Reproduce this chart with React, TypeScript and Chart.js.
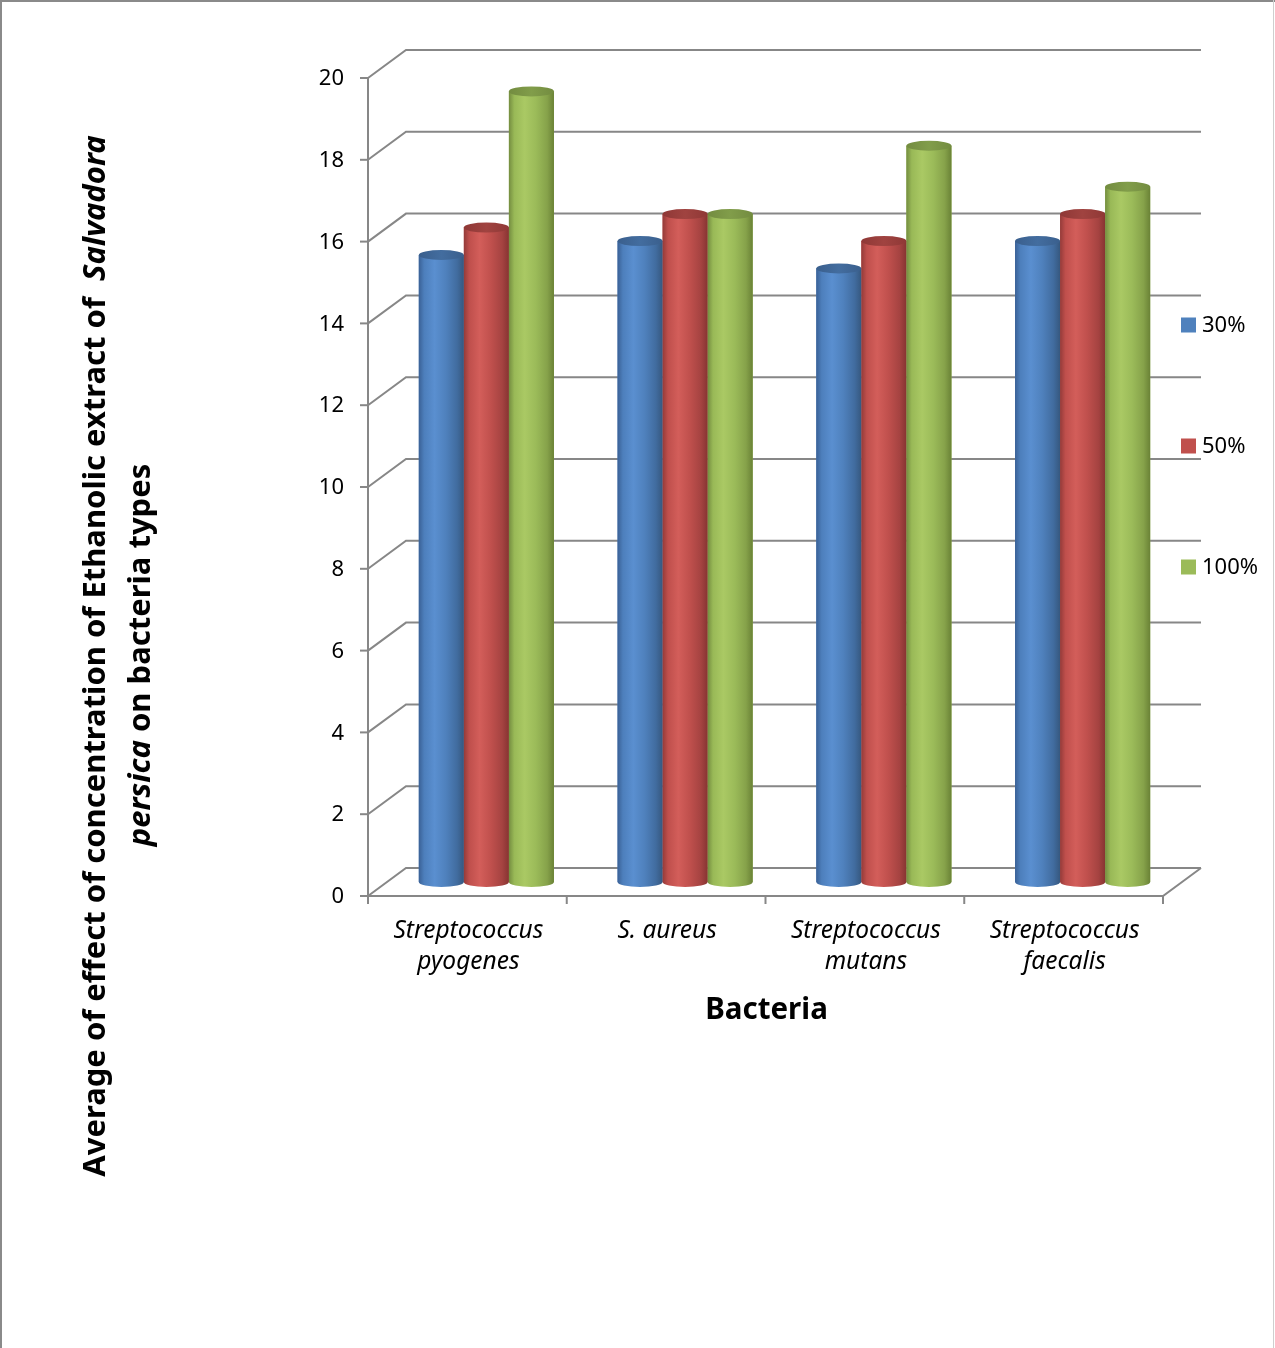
import { useEffect, useRef } from "react";
import { Chart, registerables } from "chart.js";

Chart.register(...registerables);

// ---- data ----
const categories: string[][] = [
  ["Streptococcus", "pyogenes"],
  ["S. aureus"],
  ["Streptococcus", "mutans"],
  ["Streptococcus", "faecalis"],
];
const seriesNames = ["30%", "50%", "100%"];
const values30 = [15.33, 15.67, 15.0, 15.67];
const values50 = [16.0, 16.33, 15.67, 16.33];
const values100 = [19.33, 16.33, 18.0, 17.0];
const yTicks = [0, 2, 4, 6, 8, 10, 12, 14, 16, 18, 20];
const xTitle = "Bacteria";
const yTitleLine1 = [
  { text: "Average of effect of concentration of Ethanolic extract of  ", italic: false },
  { text: "Salvadora", italic: true },
];
const yTitleLine2 = [
  { text: "persica", italic: true },
  { text: " on bacteria types", italic: false },
];

// ---- styles ----
const baseColors = ["#4F81BD", "#C0504D", "#9BBB59"];
const bodyStops = [
  ["#3a6196", "#4d7fbc", "#5a8fd0", "#4f81bd", "#416c9f", "#36587f"],
  ["#943b39", "#bf4f4c", "#d35e5a", "#c0504d", "#a54341", "#873432"],
  ["#748d40", "#99b957", "#aac964", "#9bbb59", "#86a24a", "#6a8236"],
];
const capColors = [
  ["#3a5f8d", "#436d9f"],
  ["#8f3836", "#a04340"],
  ["#738c40", "#819d4a"],
];
const GRID = "#878787";
const FONT = '"Noto Sans", "DejaVu Sans", sans-serif';
const DX = 19; // depth offset of the bar plane (x)
const DY = 14; // depth offset of the bar plane (y)

const framePlugin = {
  id: "frame3d",
  beforeDraw(chart: any) {
    const { ctx, width, height } = chart;
    ctx.save();
    ctx.fillStyle = "#ffffff";
    ctx.fillRect(0, 0, width, height);
    ctx.strokeStyle = "#8a8a8a";
    ctx.lineWidth = 2;
    ctx.beginPath();
    ctx.moveTo(0, 1);
    ctx.lineTo(width, 1);
    ctx.moveTo(1, 0);
    ctx.lineTo(1, height);
    ctx.stroke();
    ctx.strokeStyle = "#cfcfcf";
    ctx.lineWidth = 1;
    ctx.beginPath();
    ctx.moveTo(width - 1.5, 0);
    ctx.lineTo(width - 1.5, height);
    ctx.stroke();
    ctx.restore();
  },
  beforeDatasetsDraw(chart: any) {
    const { ctx, chartArea, scales } = chart;
    const y = scales.y;
    const x = scales.x;
    const fl = chartArea.left - DX;
    const fr = chartArea.right - DX;
    const bl = chartArea.left + DX;
    const br = chartArea.right + DX;
    ctx.save();
    ctx.strokeStyle = GRID;
    ctx.lineWidth = 2;
    ctx.lineCap = "butt";
    // back wall gridlines + side wall diagonals
    yTicks.forEach((v) => {
      const yp = y.getPixelForValue(v);
      ctx.beginPath();
      ctx.moveTo(fl, yp + DY);
      ctx.lineTo(bl, yp - DY);
      ctx.lineTo(br, yp - DY);
      ctx.stroke();
      // tick mark on front axis
      ctx.beginPath();
      ctx.moveTo(fl - 8, yp + DY);
      ctx.lineTo(fl, yp + DY);
      ctx.stroke();
    });
    // floor front edge and right diagonal
    const y0 = y.getPixelForValue(0);
    ctx.beginPath();
    ctx.moveTo(fl, y0 + DY);
    ctx.lineTo(fr, y0 + DY);
    ctx.lineTo(br, y0 - DY);
    ctx.stroke();
    // front vertical axis
    ctx.beginPath();
    ctx.moveTo(fl, y0 + DY);
    ctx.lineTo(fl, y.getPixelForValue(yTicks[yTicks.length - 1]) + DY);
    ctx.stroke();
    // category tick marks
    const step = (chartArea.right - chartArea.left) / categories.length;
    for (let i = 0; i <= categories.length; i++) {
      const xp = fl + i * step;
      ctx.beginPath();
      ctx.moveTo(xp, y0 + DY);
      ctx.lineTo(xp, y0 + DY + 8);
      ctx.stroke();
    }

    // y tick labels
    ctx.fillStyle = "#000000";
    ctx.font = `22px ${FONT}`;
    ctx.textAlign = "right";
    ctx.textBaseline = "middle";
    yTicks.forEach((v) => {
      ctx.fillText(String(v), fl - 24, y.getPixelForValue(v) + DY + 1);
    });

    // category labels
    ctx.font = `italic 24.5px ${FONT}`;
    ctx.textAlign = "center";
    ctx.textBaseline = "alphabetic";
    categories.forEach((lines, i) => {
      const cx = x.getPixelForValue(i) - DX;
      lines.forEach((ln, k) => {
        ctx.fillText(ln, cx + 1, y0 + DY + 42 + k * 31);
      });
    });

    // x axis title
    ctx.font = `bold 29.5px ${FONT}`;
    ctx.fillText(xTitle, (fl + fr) / 2 + 1, 1019);

    // y axis title (rotated, two lines)
    const drawRotated = (parts: { text: string; italic: boolean }[], bx: number, cy: number) => {
      const fontOf = (it: boolean) => `${it ? "italic " : ""}bold 31px ${FONT}`;
      let total = 0;
      parts.forEach((p) => {
        ctx.font = fontOf(p.italic);
        total += ctx.measureText(p.text).width;
      });
      ctx.save();
      ctx.translate(bx, cy);
      ctx.rotate(-Math.PI / 2);
      ctx.textAlign = "left";
      ctx.textBaseline = "alphabetic";
      let pos = -total / 2;
      parts.forEach((p) => {
        ctx.font = fontOf(p.italic);
        ctx.fillText(p.text, pos, 0);
        pos += ctx.measureText(p.text).width;
      });
      ctx.restore();
    };
    drawRotated(yTitleLine1, 105, 656);
    drawRotated(yTitleLine2, 150, 655);

    // legend
    const legendY = [325, 446, 567];
    ctx.font = `22px ${FONT}`;
    ctx.textAlign = "left";
    ctx.textBaseline = "middle";
    seriesNames.forEach((name, i) => {
      ctx.fillStyle = baseColors[i];
      ctx.fillRect(1181, legendY[i] - 7.5, 15, 15);
      ctx.fillStyle = "#000000";
      ctx.fillText(name, 1202, legendY[i] + 1);
    });
    ctx.restore();
  },
  afterDatasetsDraw(chart: any) {
    const { ctx } = chart;
    const nSeries = chart.data.datasets.length;
    ctx.save();
    for (let ci = 0; ci < categories.length; ci++) {
      for (let di = 0; di < nSeries; di++) {
        const el = chart.getDatasetMeta(di).data[ci];
        const { x, y, base, width } = el.getProps(["x", "y", "base", "width"], true);
        const rx = width / 2;
        const ry = 5;
        const l = x - rx;
        const r = x + rx;
        const g = ctx.createLinearGradient(l, 0, r, 0);
        const st = bodyStops[di];
        [0, 0.12, 0.35, 0.6, 0.85, 1].forEach((p, k) => g.addColorStop(p, st[k]));
        ctx.fillStyle = g;
        ctx.beginPath();
        ctx.moveTo(l, y);
        ctx.lineTo(l, base);
        ctx.ellipse(x, base, rx, ry, 0, Math.PI, 0, true);
        ctx.lineTo(r, y);
        ctx.closePath();
        ctx.fill();
        // top cap
        const cg = ctx.createLinearGradient(l, 0, r, 0);
        cg.addColorStop(0, capColors[di][0]);
        cg.addColorStop(0.5, capColors[di][1]);
        cg.addColorStop(1, capColors[di][0]);
        ctx.fillStyle = cg;
        ctx.beginPath();
        ctx.ellipse(x, y, rx, ry, 0, 0, Math.PI * 2);
        ctx.fill();
      }
    }
    ctx.restore();
  },
};

export default function App() {
  const ref = useRef<HTMLCanvasElement | null>(null);

  useEffect(() => {
    if (!ref.current) return;
    const chart = new Chart(ref.current, {
      type: "bar",
      data: {
        labels: categories,
        datasets: [
          { label: seriesNames[0], data: values30, backgroundColor: baseColors[0] },
          { label: seriesNames[1], data: values50, backgroundColor: baseColors[1] },
          { label: seriesNames[2], data: values100, backgroundColor: baseColors[2] },
        ],
      },
      options: {
        responsive: false,
        animation: false,
        events: [],
        layout: { padding: { left: 387, right: 93, top: 64, bottom: 466 } },
        datasets: {
          bar: { categoryPercentage: 0.68, barPercentage: 1.0, borderWidth: 0 },
        },
        plugins: {
          legend: { display: false },
          tooltip: { enabled: false },
          title: { display: false },
        },
        scales: {
          x: { display: false, offset: true },
          y: { display: false, min: 0, max: 20 },
        },
      },
      plugins: [framePlugin],
    });
    return () => chart.destroy();
  }, []);

  return (
    <div style={{ position: "absolute", left: 0, top: 0, width: 1275, height: 1348 }}>
      <canvas ref={ref} width={1275} height={1348} style={{ width: 1275, height: 1348, display: "block" }} />
    </div>
  );
}
